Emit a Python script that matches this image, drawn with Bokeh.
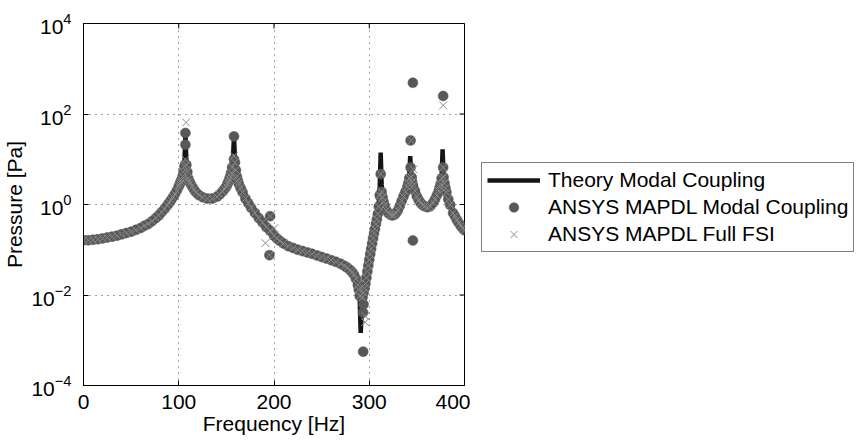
import math
from bokeh.plotting import figure
from bokeh.layouts import row
from bokeh.models import Range1d, FixedTicker, Legend, LegendItem, ColumnDataSource
from bokeh.embed import file_html
from bokeh.resources import INLINE

# ---------------- data ----------------
theory_freq_hz = [0, 5, 10, 15, 20, 25, 30, 35, 40, 45, 50, 55, 60, 65, 70, 75, 80, 85, 90, 95,
                  98, 100, 102, 104, 105, 106, 107, 108, 109, 110, 112, 115, 118, 121, 125, 130,
                  135, 140, 144, 148, 151, 153, 155, 156, 157, 158, 159, 160, 161, 163, 166, 170,
                  175, 180, 185, 190, 194, 196, 198, 200, 205, 210, 215, 220, 230, 240, 250, 260,
                  270, 276, 280, 284, 287, 289, 290, 291, 292, 293, 295, 298, 301, 304, 307, 309,
                  310, 311, 312, 313, 314, 316, 318, 321, 324, 327, 330, 333, 336, 339, 341, 342,
                  343, 344, 345, 347, 350, 354, 358, 361, 364, 367, 370, 373, 375, 376, 377, 378,
                  379, 381, 384, 388, 392, 396, 400]
theory_pa = [0.162, 0.162, 0.166, 0.170, 0.178, 0.186, 0.195, 0.204, 0.219, 0.234, 0.251, 0.275,
             0.302, 0.347, 0.398, 0.479, 0.603, 0.794, 1.10, 1.58, 2.04, 2.51, 3.16, 4.17, 5.25,
             8.3, 38.0, 8.9, 5.25, 3.8, 2.95, 2.29, 1.86, 1.62, 1.45, 1.35, 1.35, 1.48, 1.74,
             2.19, 2.82, 3.63, 5.0, 6.6, 11.2, 33.0, 10.0, 5.75, 4.17, 2.88, 2.0, 1.35, 0.91,
             0.646, 0.479, 0.355, 0.282, 0.263, 0.229, 0.204, 0.166, 0.138, 0.120, 0.110,
             0.0933, 0.0813, 0.0692, 0.0589, 0.0490, 0.0417, 0.0355, 0.0282, 0.0200, 0.0132,
             0.00794, 0.00145, 0.00355, 0.00708, 0.0126, 0.0355, 0.0891, 0.191, 0.380, 0.661,
             1.05, 2.51, 14.1, 2.82, 1.51, 0.955, 0.741, 0.617, 0.575, 0.603, 0.741, 1.07, 1.51,
             2.14, 2.95, 4.47, 11.7, 4.79, 3.16, 2.24, 1.51, 1.07, 0.912, 0.871, 0.912, 1.10,
             1.41, 2.0, 2.82, 4.17, 16.6, 4.47, 2.95, 1.86, 1.05, 0.646, 0.457, 0.339, 0.269]

# points where both ANSYS MAPDL results lie on the same band
ansys_band_freq_hz = [0, 5, 10, 15, 20, 25, 30, 35, 40, 45, 50, 55, 60, 64, 68, 72, 76, 79, 82, 85,
                      88, 90, 92, 94, 96, 98, 100, 101, 102, 103, 104, 105, 106, 108, 109, 110, 111,
                      112, 114, 116, 118, 121, 125, 130, 135, 140, 143, 146, 148, 150, 151, 152, 153,
                      154, 155, 156, 159, 160, 161, 162, 163, 165, 167, 170, 173, 176, 180, 184, 188,
                      192, 196, 200, 203, 206, 210, 215, 220, 225, 230, 235, 240, 245, 250, 255, 260,
                      265, 270, 274, 277, 280, 282, 284, 286, 288, 289, 290, 293, 294, 295, 296, 297,
                      298, 299, 300, 301, 302, 303, 304, 305, 306, 307, 308, 309, 310, 311, 313, 314,
                      315, 316, 318, 320, 322, 324, 326, 328, 330, 332, 334, 336, 338, 340, 341, 342,
                      344, 345, 346, 348, 350, 352, 354, 356, 358, 361, 364, 367, 369, 371, 373, 374,
                      375, 376, 378, 379, 380, 381, 383, 385, 388, 390, 392, 394, 396, 398, 400]
ansys_band_pa = [0.162, 0.162, 0.166, 0.170, 0.178, 0.186, 0.195, 0.204, 0.219, 0.234, 0.251, 0.275,
                 0.302, 0.339, 0.372, 0.427, 0.50, 0.575, 0.676, 0.794, 0.955, 1.10, 1.26, 1.45,
                 1.70, 2.04, 2.51, 2.82, 3.16, 3.55, 4.17, 5.25, 7.0, 7.5, 5.25, 3.8, 3.3, 2.95,
                 2.5, 2.14, 1.86, 1.62, 1.45, 1.35, 1.35, 1.48, 1.66, 1.95, 2.19, 2.5, 2.82, 3.16,
                 3.63, 4.2, 5.0, 6.6, 8.5, 5.75, 4.17, 3.4, 2.88, 2.3, 1.86, 1.35, 1.07, 0.85,
                 0.646, 0.50, 0.40, 0.316, 0.263, 0.204, 0.178, 0.158, 0.138, 0.120, 0.110, 0.100,
                 0.0933, 0.087, 0.0813, 0.075, 0.0692, 0.064, 0.0589, 0.054, 0.0490, 0.044, 0.040,
                 0.0355, 0.032, 0.0282, 0.023, 0.0166, 0.0132, 0.0095, 0.0089, 0.0112, 0.0141,
                 0.0178, 0.0240, 0.0331, 0.0447, 0.060, 0.080, 0.105, 0.138, 0.18, 0.23, 0.29,
                 0.37, 0.47, 0.62, 0.90, 1.6, 1.9, 1.45, 1.15, 0.955, 0.741, 0.65, 0.60, 0.575,
                 0.59, 0.64, 0.741, 0.93, 1.2, 1.51, 1.9, 2.45, 2.95, 3.8, 4.0, 3.16, 2.6, 2.0,
                 1.51, 1.25, 1.07, 0.98, 0.912, 0.871, 0.912, 1.10, 1.3, 1.6, 2.0, 2.4, 2.82, 3.8,
                 4.0, 2.95, 2.3, 1.86, 1.3, 0.98, 0.646, 0.55, 0.457, 0.39, 0.339, 0.30, 0.269]

# points where the ANSYS MAPDL Modal Coupling result leaves the band
modal_extra_freq_hz = [107, 107, 107, 158, 158, 195.9, 195.2, 293.6, 293.5, 294, 312, 312,
                       345.8, 343.4, 343.4, 344.5, 345.8, 377.6, 377.6]
modal_extra_pa = [38.0, 21.0, 7.8, 32.0, 10.0, 0.55, 0.076, 0.00056, 0.0041, 0.0062, 4.7, 1.45,
                  490.0, 26.0, 6.6, 4.0, 0.16, 250.0, 6.6]

# points where the ANSYS MAPDL Full FSI result leaves the band
fsi_extra_freq_hz = [107.7, 107, 158, 195.9, 195.2, 191, 200.4, 295.6, 296, 312, 344, 346.5,
                     377.6, 377.6]
fsi_extra_pa = [65.0, 10.0, 12.0, 0.55, 0.076, 0.14, 0.30, 0.0025, 0.0034, 4.7, 26.0, 6.0,
                155.0, 6.6]

x_ticks = [0, 100, 200, 300, 400]
y_ticks = [1e-4, 1e-2, 1e0, 1e2, 1e4]

series_names = ["Theory Modal Coupling", "ANSYS MAPDL Modal Coupling", "ANSYS MAPDL Full FSI"]

# ---------------- styles ----------------
FONT = "Liberation Sans"
FS = "21px"
X_MIN, X_MAX = x_ticks[0], x_ticks[-1]
Y_MIN, Y_MAX = y_ticks[0], y_ticks[-1]
LINE_STYLE = dict(line_color="#151515", line_width=4.5)
CIRCLE_STYLE = dict(marker="circle", fill_color="#585858", line_color="#585858", line_width=0.5)
X_STYLE = dict(marker="x", line_color="#8a8a8a", line_width=1)

# ---------------- main plot ----------------
p = figure(width=470, height=442, x_range=Range1d(X_MIN, X_MAX), y_range=Range1d(Y_MIN, Y_MAX),
           y_axis_type="log", output_backend="svg", toolbar_location=None,
           min_border_left=82, min_border_right=6, min_border_top=23, min_border_bottom=57)
p.background_fill_color = "white"
p.border_fill_color = "white"
p.outline_line_color = "black"
p.outline_line_width = 1

theory_src = ColumnDataSource(dict(f=theory_freq_hz, p=theory_pa))
modal_src = ColumnDataSource(dict(f=ansys_band_freq_hz + modal_extra_freq_hz,
                                  p=ansys_band_pa + modal_extra_pa))
fsi_src = ColumnDataSource(dict(f=ansys_band_freq_hz + fsi_extra_freq_hz,
                                p=ansys_band_pa + fsi_extra_pa))

p.line("f", "p", source=theory_src, **LINE_STYLE)
p.scatter("f", "p", source=modal_src, size=10, **CIRCLE_STYLE)
p.scatter("f", "p", source=fsi_src, size=11, **X_STYLE)

# inward tick marks on the top and right edges of the box (clipped by the frame)
p.scatter(x_ticks, [Y_MAX] * len(x_ticks), marker="dash", angle=math.pi / 2, size=10,
          line_color="black", line_width=1)
p.scatter([X_MAX] * len(y_ticks), y_ticks, marker="dash", size=10,
          line_color="black", line_width=1)

for ax in (p.xaxis[0], p.yaxis[0]):
    ax.axis_line_color = "black"
    ax.major_tick_in = 5
    ax.major_tick_out = 0
    ax.minor_tick_in = 0
    ax.minor_tick_out = 0
    ax.major_label_text_font = FONT
    ax.major_label_text_font_size = FS
    ax.major_label_text_color = "black"
    ax.axis_label_text_font = FONT
    ax.axis_label_text_font_size = FS
    ax.axis_label_text_font_style = "normal"
    ax.axis_label_text_color = "black"

p.xaxis.ticker = FixedTicker(ticks=x_ticks)
p.yaxis.ticker = FixedTicker(ticks=y_ticks)
p.xaxis.axis_label = "Frequency [Hz]"
p.yaxis.axis_label = "Pressure [Pa]"
p.xaxis.major_label_standoff = 9
p.xaxis.axis_label_standoff = 0
p.yaxis.major_label_standoff = 12
p.yaxis.axis_label_standoff = 2

p.xgrid.ticker = FixedTicker(ticks=x_ticks)
p.ygrid.ticker = FixedTicker(ticks=y_ticks)
for g in (p.xgrid[0], p.ygrid[0]):
    g.grid_line_color = "#444444"
    g.grid_line_dash = "1 5"
    g.grid_line_width = 1

# ---------------- legend panel ----------------
# The legend sits in a second, axis-less figure whose ranges lie away from the data,
# so its renderers (same sources and styles as the plot) only show up as legend keys.
lp = figure(width=393, height=442, x_range=Range1d(-2, -1), y_range=Range1d(-2, -1),
            output_backend="svg", toolbar_location=None,
            min_border_left=0, min_border_right=0, min_border_top=0, min_border_bottom=0)
lp.axis.visible = False
lp.grid.visible = False
lp.outline_line_color = None
lp.background_fill_color = "white"
lp.border_fill_color = "white"

k_theory = lp.line("f", "p", source=theory_src, **LINE_STYLE)
k_modal = lp.scatter("f", "p", source=modal_src, size=7, **CIRCLE_STYLE)
k_fsi = lp.scatter("f", "p", source=fsi_src, size=9, **X_STYLE)

legend = Legend(items=[LegendItem(label=series_names[0], renderers=[k_theory], index=0),
                       LegendItem(label=series_names[1], renderers=[k_modal], index=0),
                       LegendItem(label=series_names[2], renderers=[k_fsi], index=0)],
                location=(11, 133))
legend.label_text_font = FONT
legend.label_text_font_size = FS
legend.label_text_color = "black"
legend.glyph_width = 53
legend.glyph_height = 24
legend.label_height = 24
legend.label_standoff = 8
legend.spacing = 3
legend.padding = 5
legend.margin = 0
legend.border_line_color = "black"
legend.border_line_width = 1
legend.background_fill_color = "white"
legend.background_fill_alpha = 1
lp.add_layout(legend, "center")

layout = row(p, lp)
open("out.html", "w").write(file_html(layout, INLINE))
